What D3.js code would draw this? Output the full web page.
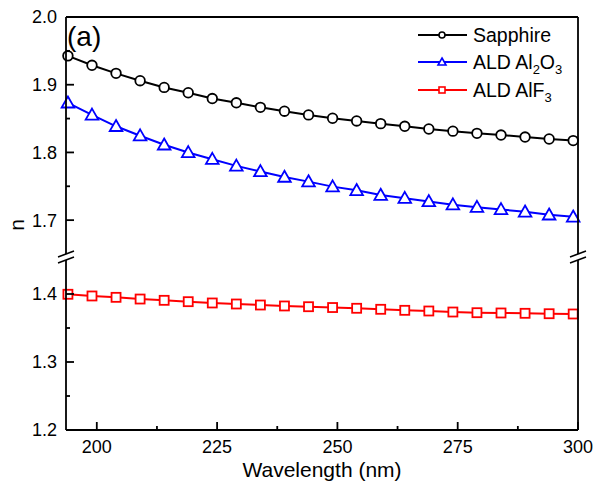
<!DOCTYPE html>
<html>
<head>
<meta charset="utf-8">
<script src="https://cdn.jsdelivr.net/npm/d3@7"></script>
<style>
  body { margin: 0; background: #fff; }
  svg text { font-family: "Liberation Sans", Arial, sans-serif; fill: #000; }
</style>
</head>
<body>
<div id="chart"></div>
<script>
// Data
var wavelengths = [194, 199, 204, 209, 214, 219, 224, 229, 234, 239, 244,
                   249, 254, 259, 264, 269, 274, 279, 284, 289, 294, 299];
var sapphire = [1.9426, 1.9287, 1.9168, 1.9059, 1.8960, 1.8881, 1.8796, 1.8733,
                1.8666, 1.8609, 1.8554, 1.8505, 1.8465, 1.8425, 1.8386, 1.8346,
                1.8314, 1.8282, 1.8257, 1.8227, 1.8198, 1.8175];
var al2o3 = [1.8733, 1.8554, 1.8386, 1.8247, 1.8113, 1.8000, 1.7900, 1.7801,
             1.7719, 1.7637, 1.7569, 1.7495, 1.7440, 1.7370, 1.7325, 1.7276,
             1.7229, 1.7192, 1.7158, 1.7123, 1.7079, 1.7049];
var alf3 = [1.3996, 1.3971, 1.3951, 1.3926, 1.3907, 1.3887, 1.3868, 1.3853,
            1.3838, 1.3824, 1.3813, 1.3801, 1.3790, 1.3775, 1.3760, 1.3750,
            1.3735, 1.3725, 1.3721, 1.3716, 1.3710, 1.3706];
var xTicks = [200, 225, 250, 275, 300];
var xMinor = [212.5, 237.5, 262.5, 287.5];
var yTicksUpper = [1.7, 1.8, 1.9, 2.0];
var yMinorUpper = [1.75, 1.85, 1.95];
var yTicksLower = [1.2, 1.3, 1.4];
var yMinorLower = [1.25, 1.35];

window.onload = function() {
    var width = 602, height = 485;
    var left = 66, right = 578, top = 17, bottom = 430;
    var breakTop = 254, breakBottom = 260;

    var svg = d3.select("#chart").append("svg")
        .attr("width", width)
        .attr("height", height);

    var x = d3.scaleLinear().domain([193.6, 300]).range([left, right]);
    var yUp = d3.scaleLinear().domain([1.65, 2.0]).range([breakTop, top]);
    var yLo = d3.scaleLinear().domain([1.2, 1.45]).range([bottom, breakBottom]);

    // series lines + markers
    var series = [
        { name: "Sapphire", values: sapphire, y: yUp, color: "#000000", marker: "circle" },
        { name: "Al2O3", values: al2o3, y: yUp, color: "#0000ff", marker: "triangle" },
        { name: "AlF3", values: alf3, y: yLo, color: "#ff0000", marker: "square" }
    ];

    function drawMarker(g, type, color, cx, cy) {
        if (type === "circle") {
            g.append("circle").attr("cx", cx).attr("cy", cy).attr("r", 4.8)
                .attr("fill", "#fff").attr("stroke", color).attr("stroke-width", 1.8);
        } else if (type === "triangle") {
            var s = 6.3;
            g.append("path")
                .attr("d", "M" + cx + "," + (cy - s) + "L" + (cx + s) + "," + (cy + s * 0.75) +
                           "L" + (cx - s) + "," + (cy + s * 0.75) + "Z")
                .attr("fill", "#fff").attr("stroke", color).attr("stroke-width", 1.8);
        } else {
            g.append("rect").attr("x", cx - 4.5).attr("y", cy - 4.5).attr("width", 9).attr("height", 9)
                .attr("fill", "#fff").attr("stroke", color).attr("stroke-width", 1.8);
        }
    }

    series.forEach(function(s) {
        var line = d3.line()
            .x(function(d, i) { return x(wavelengths[i]); })
            .y(function(d) { return s.y(d); });
        svg.append("path")
            .datum(s.values)
            .attr("d", line)
            .attr("fill", "none")
            .attr("stroke", s.color)
            .attr("stroke-width", 2);
        var g = svg.append("g");
        s.values.forEach(function(d, i) {
            drawMarker(g, s.marker, s.color, x(wavelengths[i]), s.y(d));
        });
    });

    var axisStroke = 1.8;

    // frame: top and bottom lines
    svg.append("line").attr("x1", left).attr("x2", right).attr("y1", top).attr("y2", top)
        .attr("stroke", "#000").attr("stroke-width", axisStroke);
    svg.append("line").attr("x1", left).attr("x2", right).attr("y1", bottom).attr("y2", bottom)
        .attr("stroke", "#000").attr("stroke-width", axisStroke);

    // left and right verticals, broken
    [left, right].forEach(function(xx) {
        svg.append("line").attr("x1", xx).attr("x2", xx).attr("y1", top).attr("y2", breakTop)
            .attr("stroke", "#000").attr("stroke-width", axisStroke);
        svg.append("line").attr("x1", xx).attr("x2", xx).attr("y1", breakBottom).attr("y2", bottom)
            .attr("stroke", "#000").attr("stroke-width", axisStroke);
        [breakTop, breakBottom].forEach(function(yy) {
            svg.append("line")
                .attr("x1", xx - 8).attr("y1", yy + 3)
                .attr("x2", xx + 8).attr("y2", yy - 3)
                .attr("stroke", "#000").attr("stroke-width", 1.6);
        });
    });

    // x ticks (inward)
    svg.append("g").selectAll("line").data(xTicks).enter().append("line")
        .attr("x1", function(d) { return x(d); }).attr("x2", function(d) { return x(d); })
        .attr("y1", bottom).attr("y2", bottom - 8)
        .attr("stroke", "#000").attr("stroke-width", axisStroke);
    svg.append("g").selectAll("line").data(xMinor).enter().append("line")
        .attr("x1", function(d) { return x(d); }).attr("x2", function(d) { return x(d); })
        .attr("y1", bottom).attr("y2", bottom - 4)
        .attr("stroke", "#000").attr("stroke-width", axisStroke);
    svg.append("g").selectAll("text").data(xTicks).enter().append("text")
        .attr("x", function(d) { return x(d); })
        .attr("y", 453)
        .attr("text-anchor", "middle")
        .attr("font-size", 18)
        .text(function(d) { return d; });

    // y ticks (inward) for both segments
    function yTicks(scale, major, minor) {
        svg.append("g").selectAll("line").data(major).enter().append("line")
            .attr("x1", left).attr("x2", left + 8)
            .attr("y1", function(d) { return scale(d); }).attr("y2", function(d) { return scale(d); })
            .attr("stroke", "#000").attr("stroke-width", axisStroke);
        svg.append("g").selectAll("line").data(minor).enter().append("line")
            .attr("x1", left).attr("x2", left + 4)
            .attr("y1", function(d) { return scale(d); }).attr("y2", function(d) { return scale(d); })
            .attr("stroke", "#000").attr("stroke-width", axisStroke);
        svg.append("g").selectAll("text").data(major).enter().append("text")
            .attr("x", 57)
            .attr("y", function(d) { return scale(d); })
            .attr("dy", "0.36em")
            .attr("text-anchor", "end")
            .attr("font-size", 18)
            .text(function(d) { return d3.format(".1f")(d); });
    }
    yTicks(yUp, yTicksUpper, yMinorUpper);
    yTicks(yLo, yTicksLower, yMinorLower);

    // axis titles
    svg.append("text")
        .attr("x", (left + right) / 2).attr("y", 477)
        .attr("text-anchor", "middle")
        .attr("font-size", 21)
        .text("Wavelength (nm)");
    svg.append("text")
        .attr("transform", "translate(24,225) rotate(-90)")
        .attr("text-anchor", "middle")
        .attr("font-size", 21)
        .text("n");

    // panel label
    svg.append("text")
        .attr("x", 67).attr("y", 46)
        .attr("font-size", 28)
        .text("(a)");

    // legend
    var legendY = [35, 62, 90];
    var lg = svg.append("g");
    series.forEach(function(s, i) {
        var ly = legendY[i];
        lg.append("line").attr("x1", 418).attr("x2", 467).attr("y1", ly).attr("y2", ly)
            .attr("stroke", s.color).attr("stroke-width", 2);
        var mg = lg.append("g");
        if (s.marker === "circle") {
            mg.append("circle").attr("cx", 442).attr("cy", ly).attr("r", 3)
                .attr("fill", "#fff").attr("stroke", s.color).attr("stroke-width", 1.6);
        } else if (s.marker === "triangle") {
            mg.append("path").attr("d", "M442," + (ly - 4) + "L446," + (ly + 3) + "L438," + (ly + 3) + "Z")
                .attr("fill", "#fff").attr("stroke", s.color).attr("stroke-width", 1.6);
        } else {
            mg.append("rect").attr("x", 439).attr("y", ly - 3).attr("width", 6).attr("height", 6)
                .attr("fill", "#fff").attr("stroke", s.color).attr("stroke-width", 1.6);
        }
        var t = lg.append("text").attr("x", 473).attr("y", ly + 7).attr("font-size", 19.5);
        if (s.name === "Sapphire") {
            t.text("Sapphire");
        } else if (s.name === "Al2O3") {
            t.append("tspan").text("ALD Al");
            t.append("tspan").attr("dy", 5).attr("font-size", 13).text("2");
            t.append("tspan").attr("dy", -5).text("O");
            t.append("tspan").attr("dy", 5).attr("font-size", 13).text("3");
        } else {
            t.append("tspan").text("ALD AlF");
            t.append("tspan").attr("dy", 5).attr("font-size", 13).text("3");
        }
    });
};
</script>
</body>
</html>
